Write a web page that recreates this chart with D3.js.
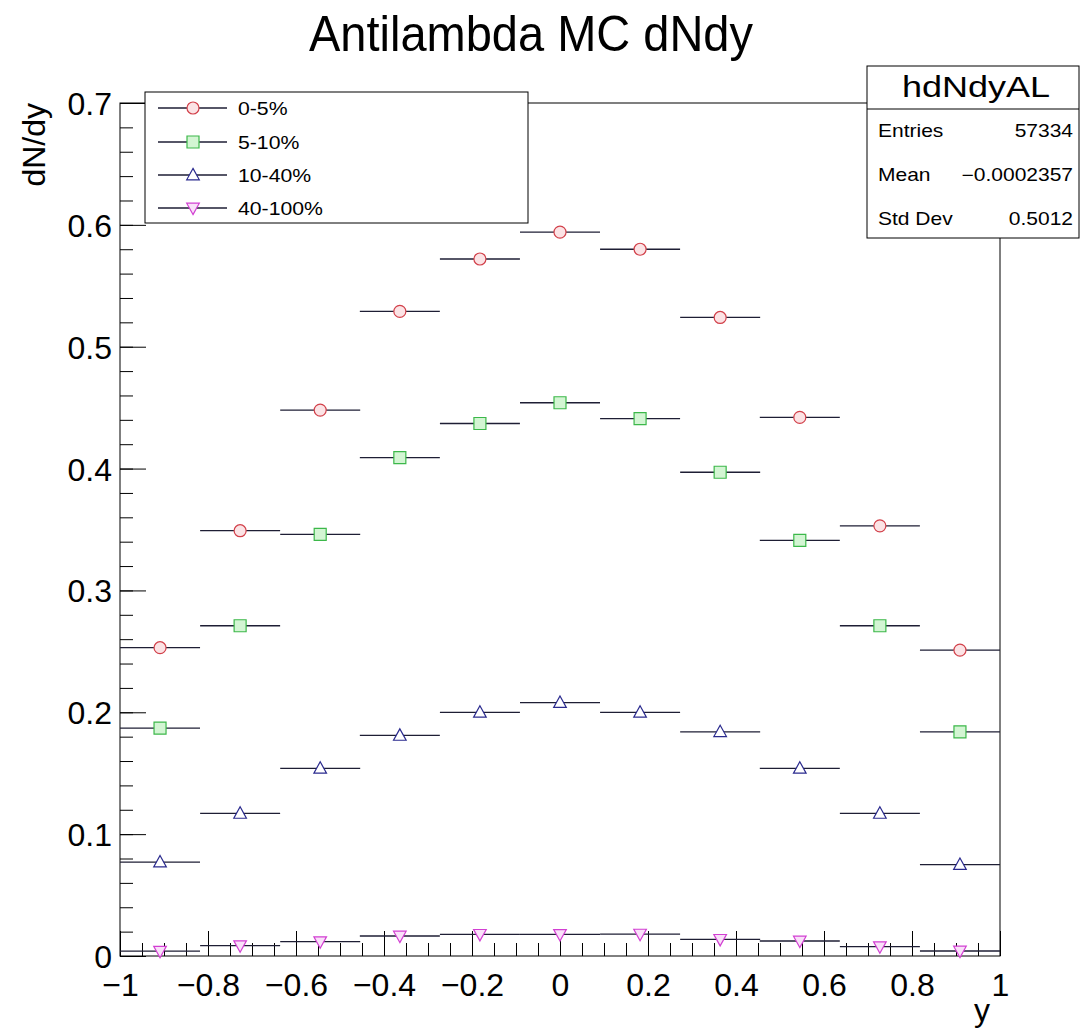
<!DOCTYPE html>
<html>
<head>
<meta charset="utf-8">
<script src="https://cdn.jsdelivr.net/npm/d3@7"></script>
<style>
  html, body { margin: 0; padding: 0; background: #fff; }
  svg { display: block; font-family: "Liberation Sans", Arial, Helvetica, sans-serif; }
</style>
</head>
<body>
<svg id="chart" width="1081" height="1031"></svg>
<script>
// ---- data ----
const binCenters = [-0.909, -0.727, -0.545, -0.364, -0.182, 0, 0.182, 0.364, 0.545, 0.727, 0.909];
const binWidth = 2 / 11;
const seriesNames = ["0-5%", "5-10%", "10-40%", "40-100%"];
const vals0_5   = [0.253, 0.349, 0.448, 0.529, 0.572, 0.594, 0.580, 0.524, 0.442, 0.353, 0.251];
const vals5_10  = [0.187, 0.271, 0.346, 0.409, 0.437, 0.454, 0.441, 0.397, 0.341, 0.271, 0.184];
const vals10_40 = [0.077, 0.117, 0.154, 0.181, 0.200, 0.208, 0.200, 0.184, 0.154, 0.117, 0.075];
const vals40_100= [0.004, 0.0085, 0.0118, 0.0164, 0.0178, 0.0177, 0.018, 0.0137, 0.0123, 0.0077, 0.0041];
const xMajorTicks = [-1, -0.8, -0.6, -0.4, -0.2, 0, 0.2, 0.4, 0.6, 0.8, 1];
const yMajorTicks = [0, 0.1, 0.2, 0.3, 0.4, 0.5, 0.6, 0.7];
const statsName = "hdNdyAL";
const statsRows = [["Entries", "57334"], ["Mean", "\u22120.0002357"], ["Std Dev", "0.5012"]];

const series = [
  { name: seriesNames[0], values: vals0_5,    marker: "circle",   stroke: "#d2404a", fill: "#fbe3e5" },
  { name: seriesNames[1], values: vals5_10,   marker: "square",   stroke: "#3cb84a", fill: "#d3f5d3" },
  { name: seriesNames[2], values: vals10_40,  marker: "triangle", stroke: "#2a2a8e", fill: "#ffffff" },
  { name: seriesNames[3], values: vals40_100, marker: "invtri",   stroke: "#d23fd2", fill: "#f9e0f9" }
];
const lineColor = "#1e1e34";

// ---- layout ----
const svg = d3.select("#chart");
const X0 = 120, X1 = 1000, Y0 = 956, Y1 = 103;
const x = d3.scaleLinear().domain([-1, 1]).range([X0, X1]);
const y = d3.scaleLinear().domain([0, 0.7]).range([Y0, Y1]);

function fmt(v) {
  if (Math.abs(v) < 1e-9) return "0";
  const s = String(+Math.abs(v).toFixed(1));
  return (v < 0 ? "\u2212" : "") + s;
}

// frame
svg.append("rect").attr("x", X0).attr("y", Y1).attr("width", X1 - X0).attr("height", Y0 - Y1)
  .attr("fill", "none").attr("stroke", "#000").attr("stroke-width", 1);

// x axis
const xMinor = d3.range(-1, 1.0001, 0.05).map(v => +v.toFixed(2));
svg.append("g").attr("transform", `translate(0,${Y0})`)
  .call(d3.axisBottom(x).tickValues(xMinor).tickSize(-13).tickFormat(""))
  .call(g => g.select(".domain").remove())
  .call(g => g.selectAll("line").attr("stroke", "#000"));
svg.append("g").attr("transform", `translate(0,${Y0})`)
  .call(d3.axisBottom(x).tickValues(xMajorTicks).tickSize(-25).tickFormat(fmt))
  .call(g => g.select(".domain").remove())
  .call(g => g.selectAll("line").attr("stroke", "#000"))
  .call(g => g.selectAll("text").attr("y", 40).attr("dy", null)
      .attr("font-size", 32).attr("fill", "#000")
      .attr("font-family", "'Liberation Sans', Arial, sans-serif"));

// y axis
const yMinor = d3.range(0, 0.7001, 0.02).map(v => +v.toFixed(2));
svg.append("g").attr("transform", `translate(${X0},0)`)
  .call(d3.axisLeft(y).tickValues(yMinor).tickSize(-13).tickFormat(""))
  .call(g => g.select(".domain").remove())
  .call(g => g.selectAll("line").attr("stroke", "#000"));
svg.append("g").attr("transform", `translate(${X0},0)`)
  .call(d3.axisLeft(y).tickValues(yMajorTicks).tickSize(-26).tickFormat(fmt))
  .call(g => g.select(".domain").remove())
  .call(g => g.selectAll("text").attr("x", -8).attr("dy", "0.36em")
      .attr("font-size", 32).attr("fill", "#000")
      .attr("font-family", "'Liberation Sans', Arial, sans-serif"))
  .call(g => g.selectAll("line").attr("stroke", "#000"));

// axis titles
svg.append("text").attr("transform", `translate(45,${Y1}) rotate(-90)`)
  .attr("text-anchor", "end").attr("font-size", 32).text("dN/dy");
svg.append("text").attr("x", 990).attr("y", 1021)
  .attr("text-anchor", "end").attr("font-size", 32).text("y");

// title
svg.append("g").attr("transform", "translate(531,51) scale(1,1.08)")
  .append("text").attr("text-anchor", "middle")
  .attr("font-size", 47).text("Antilambda MC dNdy");

// markers
function markerPath(type, size) {
  const r = size / 2;
  switch (type) {
    case "circle": return d3.symbol(d3.symbolCircle, Math.PI * r * r)();
    case "square": return `M${-r},${-r}H${r}V${r}H${-r}Z`;
    case "triangle": return `M0,${-r * 1.1}L${r * 1.05},${r * 0.8}L${-r * 1.05},${r * 0.8}Z`;
    case "invtri": return `M0,${r * 1.1}L${r * 1.05},${-r * 0.8}L${-r * 1.05},${-r * 0.8}Z`;
  }
}

// data
series.forEach(s => {
  const g = svg.append("g");
  g.selectAll("line.err").data(s.values).join("line")
    .attr("x1", (d, i) => x(binCenters[i] - binWidth / 2))
    .attr("x2", (d, i) => x(binCenters[i] + binWidth / 2))
    .attr("y1", d => y(d)).attr("y2", d => y(d))
    .attr("stroke", lineColor).attr("stroke-width", 1.3);
  g.selectAll("path.mk").data(s.values).join("path")
    .attr("transform", (d, i) => `translate(${x(binCenters[i])},${y(d)})`)
    .attr("d", markerPath(s.marker, 12))
    .attr("fill", s.fill).attr("stroke", s.stroke).attr("stroke-width", 1.2);
});

// legend
const leg = svg.append("g");
leg.append("rect").attr("x", 145).attr("y", 92).attr("width", 383).attr("height", 131)
  .attr("fill", "#fff").attr("stroke", "#000").attr("stroke-width", 1);
const legY = [108, 142, 175, 208];
series.forEach((s, i) => {
  leg.append("line").attr("x1", 158).attr("x2", 227).attr("y1", legY[i]).attr("y2", legY[i])
    .attr("stroke", lineColor).attr("stroke-width", 1.3);
  leg.append("path").attr("transform", `translate(193,${legY[i]})`)
    .attr("d", markerPath(s.marker, 12)).attr("fill", s.fill).attr("stroke", s.stroke).attr("stroke-width", 1.2);
  leg.append("g").attr("transform", `translate(238,${legY[i] + 7}) scale(1.18,1)`)
    .append("text").attr("font-size", 18).text(s.name);
});

// stats box
const st = svg.append("g");
st.append("rect").attr("x", 867).attr("y", 66).attr("width", 212).attr("height", 172)
  .attr("fill", "#fff").attr("stroke", "#000").attr("stroke-width", 1);
st.append("line").attr("x1", 867).attr("x2", 1079).attr("y1", 109).attr("y2", 109)
  .attr("stroke", "#000").attr("stroke-width", 1);
st.append("g").attr("transform", "translate(976,97) scale(1.2,1)")
  .append("text").attr("text-anchor", "middle").attr("font-size", 30).text(statsName);
const statY = [137, 181, 225];
statsRows.forEach((r, i) => {
  st.append("g").attr("transform", `translate(878,${statY[i]}) scale(1.2,1)`)
    .append("text").attr("font-size", 17.5).text(r[0]);
  st.append("g").attr("transform", `translate(1073,${statY[i]}) scale(1.2,1)`)
    .append("text").attr("text-anchor", "end").attr("font-size", 17.5).text(r[1]);
});
</script>
</body>
</html>
